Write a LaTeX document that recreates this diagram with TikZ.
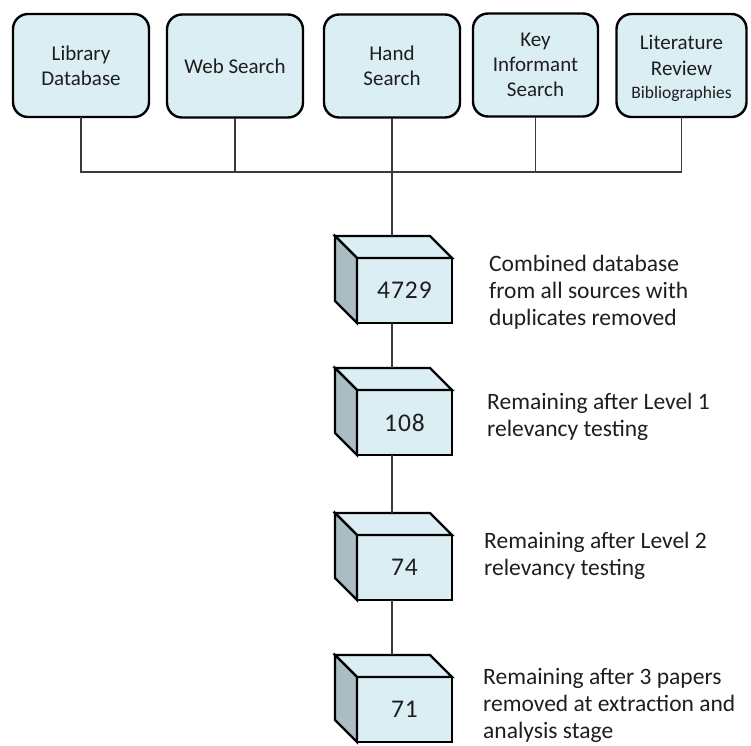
\documentclass[tikz,border=0pt]{standalone}
\usepackage{fontspec}
\setmainfont{Carlito}
\usetikzlibrary{calc}
\definecolor{boxfill}{HTML}{DAEEF3}
\definecolor{sidefill}{HTML}{A9BDC3}
\definecolor{linec}{HTML}{3A3A3A}
\definecolor{txt}{HTML}{1E1E1E}
\newcommand{\mycube}[3]{%
  \node[front] (#1) at (404.5,#2) {#3};
  \coordinate (#1t) at ($(#1.north)+(-12.5,-22)$);
  \filldraw[face, fill=boxfill] (#1.north west) -- ++(-22,-22) -- ($(#1.north east)+(-22,-22)$) -- (#1.north east) -- cycle;
  \filldraw[face, fill=sidefill] (#1.north west) -- ++(-22,-22) -- ++(0,65) -- (#1.south west) -- cycle;
}
\begin{document}
\begin{tikzpicture}[x=1pt,y=-1pt,
  src/.style={draw=black, line width=2.4pt, fill=boxfill, rounded corners=15pt,
    minimum height=103pt, align=center, font=\fontsize{21}{25}\selectfont,
    inner sep=2pt, outer sep=0pt, text=txt},
  srctext/.style={align=center, font=\fontsize{21}{26}\selectfont, inner sep=0pt, text=txt},
  front/.style={draw=black, line width=2.4pt, fill=boxfill, minimum width=95pt,
    minimum height=65pt, font=\addfontfeatures{LetterSpace=4}\fontsize{25.5}{30}\selectfont, inner sep=0pt,
    outer sep=0pt, text=txt, line join=miter},
  face/.style={draw=black, line width=2.4pt, line join=miter},
  conn/.style={draw=linec, line width=1.2pt},
  lbl/.style={anchor=west, align=left, font=\fontsize{23.5}{27}\selectfont,
    inner sep=0pt, text=txt}
]
\useasboundingbox (0,0) rectangle (751,745);

% source boxes
\node[src, minimum width=136pt] (s1) at (81,65.5) {Library\\Database};
\node[src, minimum width=136pt] (s2) at (235,66) {Web Search};
\node[src, minimum width=136pt] (s3) at (392,66) {Hand\\Search};
\node[src, minimum width=125pt] (s4) at (535.5,65) {Key\\Informant\\Search};
\node[src, minimum width=130pt] (s5) at (681.5,65.5) {};
\node[srctext] (s5t) at (681.5,68) {Literature\\Review\\[-3pt]{\fontsize{17.5}{21}\selectfont Bibliographies}};

% cubes
\mycube{c1}{290.5}{4729}
\mycube{c2}{422.5}{108}
\mycube{c3}{567.5}{74}
\mycube{c4}{709.5}{71}

% bus
\coordinate (bus) at (0,172);
\draw[conn] (s1.south) -- (s1.south |- bus) -- (s5.south |- bus) -- (s5.south);
\draw[conn] (s2.south) -- (s2.south |- bus);
\draw[conn] (s4.south) -- (s4.south |- bus);
\draw[conn] (s3.south) -- (c1t);

% cube connectors
\draw[conn] (c1.south -| c2t) -- (c2t);
\draw[conn] (c2.south -| c3t) -- (c3t);
\draw[conn] (c3.south -| c4t) -- (c4t);

% labels
\node[lbl] (l1) at (489,292) {Combined database\\from all sources with\\duplicates removed};
\node[lbl] (l2) at (487,416.5) {Remaining after Level 1\\relevancy testing};
\node[lbl] (l3) at (484,555.5) {Remaining after Level 2\\relevancy testing};
\node[lbl] (l4) at (483,705) {Remaining after 3 papers\\removed at extraction and\\analysis stage};
\end{tikzpicture}
\end{document}
